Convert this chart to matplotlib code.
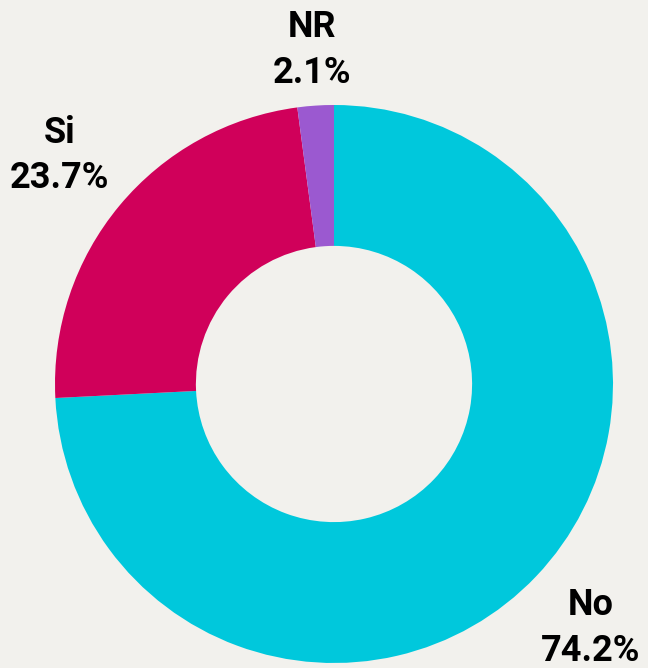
import numpy as np
import matplotlib.pyplot as plt

categories = ["No", "Si", "NR"]
values = [74.2, 23.7, 2.1]
colors = ["#00C8DC", "#D0005A", "#9B59D0"]
label_dist = [1.27, 1.28, 1.20]

bg = "#F2F1ED"
plt.rcParams["font.family"] = ["Roboto", "DejaVu Sans"]

fig = plt.figure(figsize=(6.48, 6.68), dpi=100, facecolor=bg)
ax = fig.add_axes([0, 0, 1, 1])
ax.set_facecolor(bg)

center = (334, 284)
radius = 279
wedges, _ = ax.pie(values, colors=colors, startangle=90, counterclock=False,
                   center=center, radius=radius,
                   wedgeprops=dict(width=radius * 0.505, linewidth=0))

for w, cat, v, d in zip(wedges, categories, values, label_dist):
    ang = np.deg2rad((w.theta1 + w.theta2) / 2)
    x = center[0] + radius * d * np.cos(ang)
    y = center[1] + radius * d * np.sin(ang)
    ax.text(x, y, f"{cat}\n{v:.1f}%", ha="center", va="center",
            fontsize=26, fontweight="bold", linespacing=1.35, color="black")

ax.set_xlim(0, 648)
ax.set_ylim(0, 668)
ax.set_aspect("equal")
ax.axis("off")

fig.savefig("out.png", dpi=100, facecolor=bg)
